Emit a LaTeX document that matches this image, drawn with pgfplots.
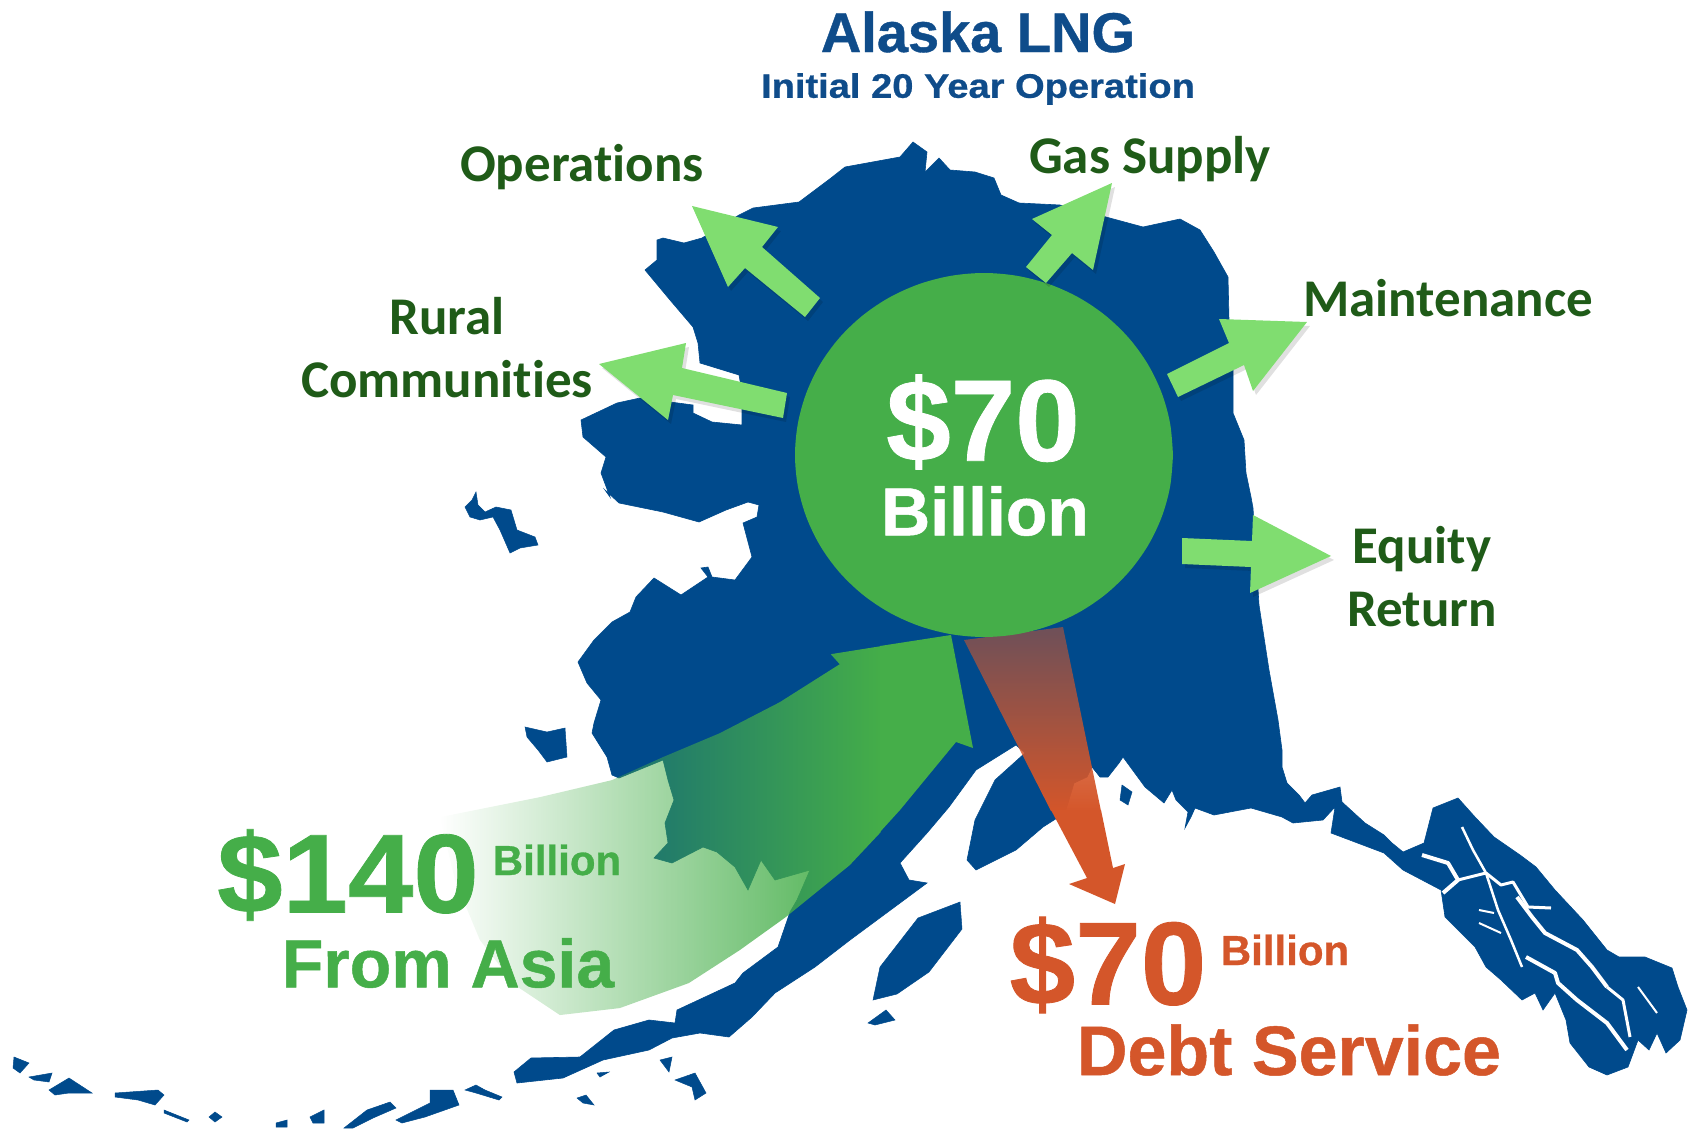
\documentclass[border=0pt]{standalone}
\usepackage{pgfplots}
\pgfplotsset{compat=1.18}
\usepackage{fontspec}
\setmainfont{Liberation Sans}[BoldFeatures={FakeBold=0.7}]
\newfontfamily\carl{Carlito}[Ligatures=NoCommon]
\usetikzlibrary{fadings}
\definecolor{land}{HTML}{004A8C}
\definecolor{biggreen}{HTML}{45AE49}
\definecolor{lightg}{HTML}{80DD70}
\definecolor{darkg}{HTML}{1F5B18}
\definecolor{org}{HTML}{D4562A}
\definecolor{ttl}{HTML}{0F4C8A}
\tikzfading[name=fadeE, left color=transparent!100, right color=transparent!0]
\tikzfading[name=fadeO, top color=transparent!48, bottom color=transparent!0]
\tikzfading[name=fadeS, top color=transparent!100, bottom color=transparent!0]
\newcommand\isl[1]{\addplot[fill=land,draw=land,line width=0.5pt] coordinates {#1} -- cycle;}
\newcommand\chan[2]{\addplot[white,line width=#1pt,line join=round] coordinates {#2};}
\newcommand\smallarrow[1]{%
 \addplot[fill=black,fill opacity=.12,draw=none,xshift=3pt,yshift=-4pt] coordinates {#1} -- cycle;
 \addplot[fill=lightg,draw=none] coordinates {#1} -- cycle;}
\newcommand\lab[5]{\node[text=#1,inner sep=0pt,xscale=#4] at (axis cs:#2) {\fontsize{#3}{#3}\selectfont\bfseries #5};}
\begin{document}
\begin{tikzpicture}
\begin{axis}[scale only axis,width=1694pt,height=1129pt,hide axis,
  xmin=0,xmax=1694,ymin=0,ymax=1129,y dir=reverse,clip mode=individual]
\addplot[draw=none] coordinates {(0,0)(1694,1129)};
% main land
\addplot[fill=land,draw=land,line width=0.6pt] coordinates {
(913,142)(927,152)(925,172)(939,158)(950,170)(975,172)(994,178)(1001,195)(1019,203)(1060,205)(1106,217)(1143,227)(1180,219)(1200,230)(1214,252)(1228,277)(1229,320)(1233,360)(1233,413)(1244,440)(1246,473)(1251,497)(1253,508)(1259,605)(1269,670)(1278,720)(1282,750)(1282,767)(1287,783)(1299,795)(1305,803)(1312,795)(1340,787)(1342,802)(1365,823)(1384,835)(1392,843)(1403,852)(1424,843)(1433,808)(1458,798)(1475,817)(1494,837)(1520,855)(1536,867)(1555,890)(1583,920)(1607,950)(1619,957)(1645,957)(1672,968)(1678,987)(1687,1010)(1680,1040)(1666,1053)(1657,1033)(1649,1050)(1638,1040)(1628,1067)(1607,1075)(1589,1067)(1570,1043)(1566,1020)(1555,993)(1543,1010)(1535,993)(1522,1000)(1501,980)(1486,967)(1475,947)(1445,917)(1441,890)(1403,870)(1384,853)(1331,833)(1335,807)(1323,820)(1293,823)(1282,817)(1251,808)(1214,815)(1195,808)(1191,817)(1185,828)(1188,812)(1176,800)(1172,790)(1164,803)(1145,787)(1123,757)(1119,763)(1108,777)(1100,777)(1092,767)(1087,777)(1074,783)(1065,813)(1043,827)(1016,850)(976,870)(967,860)(975,820)(995,780)(1025,753)(1016,745)(976,770)(949,807)(927,833)(900,863)(909,880)(927,883)(900,903)(850,940)(815,967)(775,993)(752,1017)(729,1037)(700,1033)(672,1038)(649,1050)(603,1060)(563,1078)(517,1083)(514,1072)(531,1058)(580,1057)(614,1030)(649,1020)(675,1023)(677,1010)(735,983)(743,973)(778,947)(790,912)(797,900)(810,870)(775,880)(761,860)(748,890)(735,867)(717,852)(703,847)(672,863)(654,858)(668,843)(665,823)(674,800)(668,780)(663,760)(619,778)(612,775)(607,757)(592,733)(594,723)(601,700)(587,683)(578,662)(594,640)(612,622)(630,612)(636,597)(654,578)(681,595)(708,577)(701,568)(708,567)(712,577)(735,580)(752,557)(743,523)(757,517)(759,505)(748,502)(726,510)(699,522)(663,512)(619,503)(605,490)(610,497)(601,473)(606,457)(583,437)(581,420)(617,403)(640,398)(693,405)(693,413)(712,422)(742,425)(742,392)(739,375)(700,363)(698,343)(693,327)(670,300)(645,270)(657,260)(657,240)(663,238)(684,243)(702,238)(739,215)(753,208)(799,202)(831,178)(845,167)(900,157)
} -- cycle;
% islands
\isl{(476,492)(472,500)(465,507)(470,517)(480,520)(493,517)(500,530)(510,553)(520,548)(538,545)(535,537)(517,530)(511,510)(496,507)(485,512)(478,505)}
\isl{(525,727)(547,732)(565,728)(567,757)(547,762)(538,750)(527,737)}
\isl{(960,902)(918,918)(880,967)(873,1000)(897,994)(929,972)(962,929)}
\isl{(886,1010)(895,1020)(875,1025)(868,1023)}
\isl{(14,1057)(29,1063)(20,1073)(13,1068)}
\isl{(29,1077)(52,1073)(49,1082)(34,1080)}
\isl{(49,1090)(69,1078)(92,1093)(69,1093)(55,1095)}
\isl{(115,1093)(158,1090)(164,1095)(155,1105)(138,1100)(115,1097)}
\isl{(164,1110)(189,1120)(187,1122)(164,1113)}
\isl{(209,1117)(215,1112)(222,1117)(215,1122)}
\isl{(276,1123)(287,1120)(287,1127)(276,1127)}
\isl{(310,1117)(324,1110)(324,1123)(313,1123)}
\isl{(344,1128)(367,1110)(390,1102)(396,1108)(373,1118)(353,1128)}
\isl{(396,1120)(430,1103)(430,1090)(453,1090)(459,1105)(425,1117)(402,1123)}
\isl{(465,1090)(476,1085)(485,1090)(502,1097)(499,1100)(476,1093)}
\isl{(577,1098)(586,1095)(594,1105)(583,1103)}
\isl{(675,1080)(695,1073)(706,1093)(695,1100)(692,1087)}
\isl{(660,1060)(672,1057)(669,1072)}
\isl{(597,1073)(609,1072)(600,1077)}
\isl{(1122,785)(1132,792)(1128,805)(1120,800)}
% channels in the panhandle
\chan{4}{(1422,855)(1448,863)(1458,880)(1443,893)}
\chan{2.5}{(1462,827)(1473,850)(1486,873)(1498,910)(1511,940)(1522,967)}
\chan{3}{(1458,880)(1486,873)}
\chan{3}{(1486,873)(1501,885)(1513,882)(1528,907)(1551,908)}
\chan{4}{(1517,897)(1532,917)(1545,933)(1577,950)(1592,967)(1607,987)}
\chan{4}{(1526,957)(1555,973)(1558,983)(1577,1000)(1607,1023)(1627,1050)}
\chan{2}{(1638,987)(1657,1013)}
\chan{3}{(1607,987)(1623,1000)(1630,1037)}
\chan{2}{(1479,910)(1494,913)}
\chan{2}{(1479,923)(1501,933)}
% big green arrow, fading part then solid part; the lower left is cut to a curve
\addplot[fill=biggreen,draw=none,path fading=fadeE] coordinates {
(881,646)(831,654)(840,664)(780,702)(720,733)(663,757)(612,780)(540,797)(440,817)(455,880)(480,940)(515,985)(560,1015)(620,1008)(689,983)(740,950)(786,917)(850,865)(881,832)} -- cycle;
\addplot[fill=biggreen,draw=none] coordinates {(880,646)(951,635)(973,748)(956,742)(900,810)(880,832)} -- cycle;
% orange arrow
\addplot[fill=org,draw=none,path fading=fadeO] coordinates {(964,640)(1063,627)(1101,811)(1051,811)} -- cycle;
\addplot[fill=org,draw=none] coordinates {(1051,810)(1101,810)(1113,868)(1125,864)(1115,904)(1069,884)(1087,878)} -- cycle;
% circle
\addplot[fill=biggreen,draw=none,smooth,tension=.55] coordinates {
(1173,455)(1170.1,423.4)(1161.6,392.8)(1147.7,364)(1128.8,338)(1105.5,315.6)(1078.5,297.4)(1048.6,284)(1016.9,275.8)(984,273)
(951.1,275.8)(919.4,284)(889.5,297.4)(862.5,315.6)(839.2,338)(820.3,364)(806.4,392.8)(797.9,423.4)(795,455)
(797.9,486.6)(806.4,517.2)(820.3,546)(839.2,572)(862.5,594.4)(889.5,612.6)(919.4,626)(951.1,634.2)(984,637)
(1016.9,634.2)(1048.6,626)(1078.5,612.6)(1105.5,594.4)(1128.8,572)(1147.7,546)(1161.6,517.2)(1170.1,486.6)(1173,455)};
% small arrows
\smallarrow{(692,206)(778,227)(762,247)(820,298)(805,317)(745,268)(728,287)}
\smallarrow{(1112,183)(1093,270)(1072,253)(1046,283)(1026,267)(1052,235)(1032,219)}
\smallarrow{(599,364)(686,343)(682,368)(787,393)(783,418)(673,395)(668,420)}
\smallarrow{(1167,374)(1178,397)(1244,365)(1253,391)(1307,322)(1219,319)(1229,343)}
\smallarrow{(1182,538)(1182,564)(1251,567)(1250,593)(1331,556)(1253,515)(1252,541)}
% text
\lab{ttl}{978,32}{56}{1}{Alaska LNG}
\lab{ttl}{978,89}{34}{1.12}{Initial 20 Year Operation}
\lab{darkg}{582,167}{53}{1}{\carl Operations}
\lab{darkg}{1150,159}{53}{1}{\carl Gas Supply}
\lab{darkg}{1448,298}{53}{1}{\carl Maintenance}
\lab{darkg}{447,316}{53}{1}{\carl Rural}
\lab{darkg}{447,379}{53}{1}{\carl Communities}
\lab{darkg}{1422,549}{53}{1}{\carl Equity}
\lab{darkg}{1422,610}{53}{1}{\carl Return}
\lab{white}{983,422}{116}{1}{\$70}
\lab{white}{985,511}{68}{1}{Billion}
\lab{biggreen}{348,875}{112}{1.05}{\$140}
\lab{biggreen}{557,860}{42}{1}{Billion}
\lab{biggreen}{448,963}{68}{1}{From Asia}
\lab{org}{1108,965}{118}{1}{\$70}
\lab{org}{1285,950}{42}{1}{Billion}
\lab{org}{1289,1050}{70}{1}{Debt Service}
\end{axis}
\end{tikzpicture}
\end{document}
